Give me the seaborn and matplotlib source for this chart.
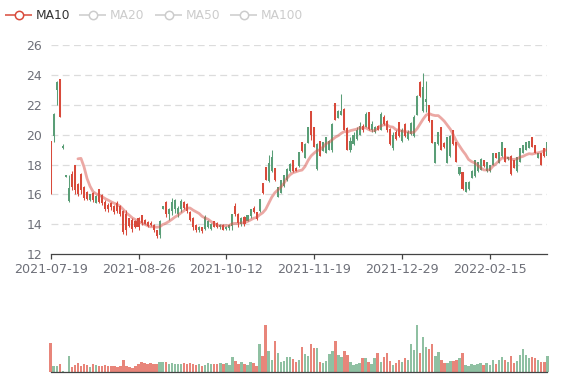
import numpy as np
import pandas as pd
import matplotlib
matplotlib.use("Agg")
import matplotlib.pyplot as plt
import seaborn as sns

# ---------------- data ----------------
date_labels = ["2021-07-19", "2021-08-26", "2021-10-12", "2021-11-19", "2021-12-29", "2022-02-15"]
label_every = 29
legend_names = ["MA10", "MA20", "MA50", "MA100"]

open_prices = [
    19.6, 19.9, 23.0, 23.75, 19.1, 17.2, 15.55, 17.4, 17.95, 16.7,
    17.35, 16.5, 16.2, 15.6, 16.1, 15.45, 16.35, 15.95, 15.5, 15.3,
    15.45, 15.2, 15.4, 15.2, 14.9, 14.7, 14.4, 14.3, 14.2, 14.4,
    14.6, 14.3, 14.15, 14.1, 13.95, 13.6, 13.3, 15.05, 15.5, 14.7,
    14.9, 15.0, 14.7, 15.0, 15.5, 15.35, 14.85, 14.4, 13.95, 13.6,
    13.8, 13.7, 13.85, 13.7, 14.2, 14.1, 13.8, 13.95, 13.7, 13.75,
    13.9, 15.2, 14.7, 14.0, 14.5, 14.25, 14.55, 15.1, 14.8, 14.9,
    16.75, 17.85, 16.9, 17.55, 17.75, 15.85, 16.1, 16.55, 17.0, 17.55,
    18.3, 17.8, 17.9, 19.5, 18.45, 19.45, 21.6, 20.5, 17.7, 19.55,
    18.9, 18.8, 19.0, 19.0, 22.1, 21.1, 21.35, 21.7, 20.45, 19.0,
    19.35, 19.7, 20.0, 20.6, 20.55, 21.5, 20.3, 20.2, 20.6, 20.35,
    21.2, 20.95, 20.4, 19.1, 20.2, 20.85, 19.6, 20.7, 19.7, 20.05,
    19.95, 21.35, 23.55, 21.6, 22.2, 22.0, 21.0, 18.1, 19.35, 20.5,
    19.45, 18.1, 18.55, 20.3, 19.5, 17.35, 17.5, 16.2, 16.35, 17.1,
    17.25, 17.55, 17.65, 18.3, 17.55, 17.55, 18.0, 18.8, 18.1, 18.55,
    19.1, 18.35, 18.6, 18.3, 17.55, 18.2, 18.8, 19.0, 19.1, 19.85,
    19.3, 18.45, 18.75, 19.1, 18.55,
]
close_prices = [
    16.0, 21.4, 23.55, 21.2, 19.25, 17.28, 16.42, 16.5, 16.3, 16.0,
    16.3, 15.75, 15.7, 16.0, 15.6, 15.9, 15.5, 15.45, 15.0, 15.0,
    15.15, 14.8, 14.9, 14.7, 13.5, 13.6, 13.9, 13.7, 13.85, 13.8,
    14.1, 14.05, 13.9, 13.95, 13.6, 13.2, 14.2, 15.2, 14.7, 15.0,
    15.5, 15.6, 15.1, 15.55, 15.1, 14.9, 14.3, 13.8, 13.6, 13.85,
    13.55, 14.5, 14.2, 14.0, 13.85, 13.8, 13.95, 13.65, 13.85, 13.95,
    14.7, 14.7, 14.1, 14.4, 14.0, 14.6, 15.0, 14.8, 14.35, 15.7,
    16.1, 17.0, 18.1, 18.5, 16.95, 16.5, 16.95, 17.3, 17.7, 18.05,
    17.55, 17.6, 18.85, 18.9, 19.4, 20.5, 20.0, 19.2, 19.4, 18.6,
    19.5, 19.85, 19.6, 20.7, 21.0, 21.6, 21.6, 20.35, 19.0, 19.6,
    20.0, 20.3, 20.6, 20.3, 21.4, 20.4, 20.7, 20.5, 20.35, 21.4,
    20.7, 20.3, 19.4, 20.0, 19.7, 19.9, 20.35, 19.95, 20.2, 20.8,
    21.2, 22.6, 22.6, 23.2, 22.4, 20.9, 19.45, 19.5, 20.2, 19.0,
    19.2, 19.85, 19.95, 19.35, 18.2, 17.85, 16.35, 16.85, 16.85, 17.6,
    18.3, 18.15, 18.4, 17.9, 18.15, 17.95, 18.75, 18.45, 18.85, 19.5,
    18.2, 18.5, 17.35, 17.8, 18.5, 19.1, 19.3, 19.5, 19.6, 19.2,
    18.8, 18.75, 18.0, 18.55, 19.5,
]
low_prices = [
    16.0, 19.5, 22.0, 21.2, 19.05, 17.15, 15.5, 16.3, 16.0, 15.9,
    16.0, 15.6, 15.6, 15.55, 15.5, 15.4, 15.45, 15.3, 14.9, 14.85,
    14.95, 14.7, 14.75, 14.55, 13.35, 13.3, 13.8, 13.5, 13.75, 13.6,
    13.95, 14.0, 13.85, 13.9, 13.5, 13.1, 13.1, 15.0, 14.5, 14.3,
    14.65, 14.75, 14.5, 14.8, 15.05, 14.75, 14.2, 13.6, 13.5, 13.5,
    13.45, 13.6, 13.75, 13.6, 13.8, 13.75, 13.7, 13.6, 13.6, 13.65,
    13.6, 14.55, 13.85, 13.9, 13.9, 14.2, 14.45, 14.75, 14.3, 14.86,
    16.05, 16.98, 16.85, 17.5, 16.9, 15.82, 16.09, 16.53, 16.9, 17.53,
    17.53, 17.55, 17.87, 18.87, 18.43, 19.43, 19.65, 19.2, 17.64, 18.58,
    18.9, 18.76, 18.98, 18.87, 20.99, 21.1, 21.32, 20.32, 18.98, 18.87,
    19.32, 19.65, 19.99, 20.2, 20.54, 20.32, 20.2, 20.1, 20.3, 20.32,
    20.65, 20.2, 19.32, 18.98, 19.65, 19.87, 19.54, 19.87, 19.65, 19.99,
    19.87, 21.32, 22.55, 21.55, 21.5, 20.88, 19.43, 18.09, 19.32, 18.98,
    19.1, 18.09, 18.53, 19.32, 18.2, 17.31, 16.31, 16.2, 16.3, 17.09,
    17.2, 17.53, 17.64, 17.87, 17.53, 17.53, 17.98, 18.43, 18.09, 18.53,
    18.2, 18.31, 17.31, 17.76, 17.53, 18.2, 18.76, 19.0, 19.1, 19.2,
    18.76, 18.43, 17.98, 18.53, 18.53,
]
high_prices = [
    19.6, 21.45, 23.6, 23.75, 19.35, 17.3, 17.3, 17.55, 18.0, 16.8,
    17.45, 16.55, 16.25, 16.05, 16.15, 15.95, 16.4, 16.0, 15.6, 15.4,
    15.5, 15.3, 15.55, 15.3, 14.95, 14.95, 14.45, 14.4, 14.3, 14.5,
    14.65, 14.35, 14.2, 14.2, 14.0, 13.65, 14.3, 15.25, 15.55, 15.1,
    15.75, 15.7, 15.2, 15.7, 15.55, 15.45, 14.9, 14.5, 14.0, 13.9,
    13.85, 14.65, 14.3, 14.1, 14.25, 14.15, 14.0, 14.0, 13.9, 14.0,
    14.7, 15.4, 14.75, 14.5, 14.55, 14.65, 15.05, 15.2, 14.85, 15.7,
    16.8, 17.87, 18.65, 18.98, 17.8, 16.53, 16.98, 17.31, 17.76, 18.09,
    18.31, 17.85, 18.87, 19.54, 19.43, 20.54, 21.61, 20.54, 19.43, 19.58,
    19.5, 19.87, 19.65, 20.77, 22.1, 21.66, 22.7, 21.77, 20.54, 19.87,
    20.21, 20.54, 20.88, 20.7, 21.55, 21.55, 20.9, 20.6, 20.65, 21.55,
    21.3, 21.0, 20.43, 20.21, 20.3, 20.88, 20.43, 20.77, 20.3, 20.88,
    21.32, 22.66, 23.62, 24.11, 23.6, 22.0, 21.0, 19.54, 20.21, 20.54,
    19.5, 19.87, 19.99, 20.32, 19.54, 17.87, 17.53, 16.86, 16.9, 17.64,
    18.31, 18.2, 18.43, 18.31, 18.2, 17.98, 18.76, 18.8, 18.87, 19.54,
    19.1, 18.53, 18.65, 18.31, 18.53, 19.1, 19.32, 19.5, 19.6, 19.87,
    19.32, 18.76, 18.76, 19.1, 19.54,
]
volumes = [
    29, 6.3, 6.3, 8.3, 1.3, 0.5, 16, 5, 7, 9,
    6.3, 8, 7, 5.3, 8.3, 7, 6, 6, 7, 6,
    6, 6.3, 5, 6.3, 12.3, 6.3, 5, 4, 6, 8,
    10.3, 9.3, 8.3, 9, 8.7, 8.3, 10.3, 10.3, 10.3, 8,
    9.3, 8.7, 8.7, 8.3, 9.7, 8.3, 9.7, 8, 7.3, 8,
    6.7, 7.3, 9, 8.7, 8.3, 8.7, 9, 8.7, 9, 7,
    15.3, 11.3, 8.3, 10, 8.3, 7, 10.3, 9.3, 6.7, 28.7,
    16.3, 47.3, 21.3, 12.3, 31.3, 19.7, 10, 11.3, 15.7, 15.3,
    13.3, 10.3, 12, 25, 18.7, 16.3, 28.7, 24, 24, 10.7,
    9.3, 11, 18.3, 21.7, 31.3, 17, 15.3, 21.3, 17.3, 10,
    7.7, 8.3, 9.7, 14, 14, 10.3, 8.3, 14, 19.7, 10.3,
    15.3, 19, 11, 7.7, 9.7, 12.3, 10.3, 14.3, 12, 28.3,
    22, 47.3, 19.7, 35.7, 25, 23.3, 28.3, 16.3, 20, 12,
    9.3, 9, 11.3, 11, 12.7, 14.7, 19.7, 7.3, 6.3, 8.7,
    7.3, 8.7, 9, 7.3, 9, 7.7, 12.3, 8.3, 12, 15,
    12.3, 10, 16.3, 9, 11.3, 17.7, 23, 17.3, 14, 15.3,
    14, 12.3, 10.3, 10.3, 16.3,
]

# ---------------- style ----------------
sns.set_theme(style="white")
plt.rcParams["font.family"] = ["DejaVu Sans"]

RISE = "#5a9e77"
FALL = "#d84a3b"
RISE_V = "#8fc0a2"
FALL_V = "#e8857a"
AXIS_C = "#444444"
LABEL_C = "#6e7079"
GRID_C = "#dcdcdc"

df = pd.DataFrame({
    "open": open_prices,
    "close": close_prices,
    "low": low_prices,
    "high": high_prices,
    "vol": volumes,
})
df["idx"] = np.arange(len(df))
df["dir"] = np.where(df["close"] >= df["open"], "rise", "fall")
df["ma10"] = df["close"].rolling(10).mean()
n = len(df)

W, H = 577, 380
fig = plt.figure(figsize=(W / 100, H / 100), dpi=100)


def rect(l, t, r, b):
    return [l / W, 1 - b / H, (r - l) / W, (b - t) / H]


ax = fig.add_axes(rect(50.7, 45.2, 547.3, 254.2))
axv = fig.add_axes(rect(50.7, 325.0, 547.3, 372.3))

# grid
for y in range(14, 27, 2):
    ax.axhline(y, color=GRID_C, lw=0.9, ls=(0, (5.5, 3.5)), zorder=0)

# candles
cols = df["dir"].map({"rise": RISE, "fall": FALL}).tolist()
ax.vlines(df["idx"], df["low"], df["high"], colors=cols, lw=0.75, zorder=2)
body_h = (df["close"] - df["open"]).abs().clip(lower=0.05)
ax.bar(df["idx"], body_h, bottom=np.minimum(df["open"], df["close"]),
       width=0.68, color=cols, linewidth=0, zorder=3)

# MA10
sns.lineplot(data=df, x="idx", y="ma10", ax=ax, color="#d9534a", alpha=0.5,
             lw=2.0, zorder=4)

ax.set_xlim(0, n - 1)
ax.set_ylim(12, 26)
ax.set_yticks(range(12, 27, 2))
ax.set_yticklabels([str(v) for v in range(12, 27, 2)])
ax.set_xticks([k * label_every for k in range(len(date_labels))])
ax.set_xticklabels(date_labels)
ax.set_xlabel("")
ax.set_ylabel("")
for s in ["top", "right", "left"]:
    ax.spines[s].set_visible(False)
ax.spines["bottom"].set_color(AXIS_C)
ax.spines["bottom"].set_linewidth(0.9)
ax.tick_params(axis="y", length=0, labelcolor=LABEL_C, labelsize=9, pad=6)
ax.tick_params(axis="x", length=3.6, width=0.9, color=AXIS_C, labelcolor=LABEL_C,
               labelsize=9.2, pad=3, direction="out", bottom=True)

# volume
sns.barplot(data=df, x="idx", y="vol", hue="dir", native_scale=True,
            palette={"rise": RISE_V, "fall": FALL_V}, width=0.82,
            errorbar=None, legend=False, saturation=1, ax=axv, linewidth=0)
for p in axv.patches:
    p.set_clip_on(False)
axv.set_xlim(0, n - 1)
axv.set_ylim(0, 47.3)
axv.set_xticks([])
axv.set_yticks([])
axv.set_xlabel("")
axv.set_ylabel("")
for s in ["top", "right", "left"]:
    axv.spines[s].set_visible(False)
axv.spines["bottom"].set_color(AXIS_C)
axv.spines["bottom"].set_linewidth(0.9)
axv.patch.set_alpha(0)

# legend
lax = fig.add_axes([0, 0, 1, 1], zorder=10)
lax.set_xlim(0, W)
lax.set_ylim(H, 0)
lax.axis("off")
lax.patch.set_alpha(0)
icon_x = [5, 79, 155, 230]
for k, (name, x0) in enumerate(zip(legend_names, icon_x)):
    c = FALL if k == 0 else "#cccccc"
    tc = "#333333" if k == 0 else "#cccccc"
    lax.plot([x0, x0 + 27], [15, 15], color=c, lw=1.1, solid_capstyle="butt")
    lax.scatter([x0 + 13.5], [15], s=36, facecolor="white", edgecolor=c,
                linewidths=1.1, zorder=3)
    lax.text(x0 + 31, 15.5, name, ha="left", va="center", fontsize=8.8, color=tc)

fig.savefig("out.png", dpi=100)
